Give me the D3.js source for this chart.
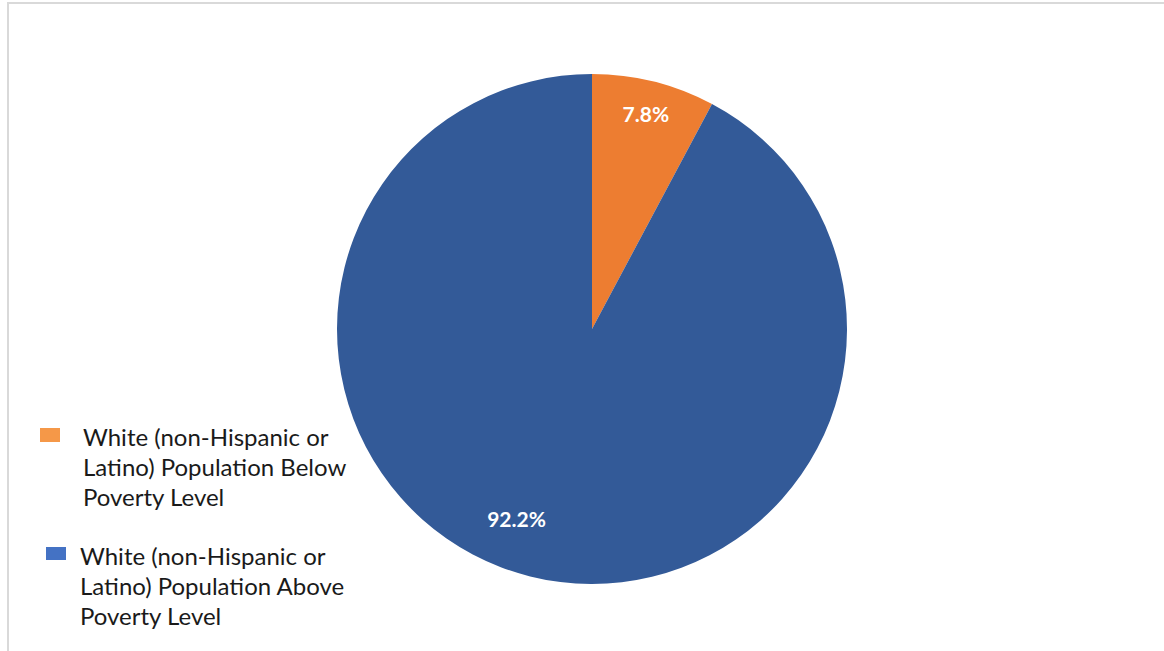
<!DOCTYPE html>
<html>
<head>
<meta charset="utf-8">
<script src="https://cdn.jsdelivr.net/npm/d3@7"></script>
<style>
  html, body { margin: 0; padding: 0; background: #ffffff; }
  svg { display: block; }
</style>
</head>
<body>
<svg id="chart" width="1164" height="651"></svg>
<script>
// ---- data ----
const categories = [
  "White (non-Hispanic or Latino) Population Below Poverty Level",
  "White (non-Hispanic or Latino) Population Above Poverty Level"
];
const values = [7.8, 92.2];
const valueLabels = ["7.8%", "92.2%"];
const legendLines = [
  ["White (non-Hispanic or", "Latino) Population Below", "Poverty Level"],
  ["White (non-Hispanic or", "Latino) Population Above", "Poverty Level"]
];

// ---- styles ----
const sliceColors = ["#ED7D31", "#335A98"];
const legendColors = ["#F59848", "#4472C4"];
const W = 1164, H = 651;
const cx = 592, cy = 329, R = 255;
const fontFamily = "Lato, 'Open Sans', 'Liberation Sans', sans-serif";

const svg = d3.select("#chart");

// frame
svg.append("rect")
  .attr("x", 8).attr("y", 3)
  .attr("width", W + 20).attr("height", H + 20)
  .attr("fill", "none")
  .attr("stroke", "#d9d9d9")
  .attr("stroke-width", 2);

const pie = d3.pie().sort(null).value(d => d)
  .startAngle(0).endAngle(2 * Math.PI);
const arcs = pie(values);
const arc = d3.arc().innerRadius(0).outerRadius(R);

const g = svg.append("g").attr("transform", `translate(${cx},${cy})`);
g.selectAll("path.slice")
  .data(arcs)
  .enter().append("path")
  .attr("class", "slice")
  .attr("d", arc)
  .attr("fill", (d, i) => sliceColors[i]);

// data labels
const labelArcs = [d3.arc().innerRadius(222).outerRadius(222),
                   d3.arc().innerRadius(204).outerRadius(204)];
const labelNudge = [[0, 0], [-26, -8]];
g.selectAll("text.lbl")
  .data(arcs)
  .enter().append("text")
  .attr("class", "lbl")
  .attr("x", (d, i) => labelArcs[i].centroid(d)[0] + labelNudge[i][0])
  .attr("y", (d, i) => labelArcs[i].centroid(d)[1] + labelNudge[i][1])
  .attr("text-anchor", "middle")
  .attr("dominant-baseline", "central")
  .attr("fill", "#ffffff")
  .attr("font-family", fontFamily)
  .attr("font-weight", "bold")
  .attr("font-size", 21)
  .text((d, i) => valueLabels[i]);

// legend
const legendPos = [
  { sx: 40, sy: 428, sw: 20, sh: 14, tx: 83, ty: 446 },
  { sx: 46, sy: 547, sw: 20, sh: 13, tx: 80, ty: 565 }
];
const lineH = 30;
categories.forEach((c, i) => {
  const p = legendPos[i];
  const lg = svg.append("g").attr("class", "legend-item");
  lg.append("rect")
    .attr("x", p.sx).attr("y", p.sy)
    .attr("width", p.sw).attr("height", p.sh)
    .attr("fill", legendColors[i]);
  const t = lg.append("text")
    .attr("font-family", fontFamily)
    .attr("font-size", 24)
    .attr("fill", "#1a1a1a");
  legendLines[i].forEach((ln, j) => {
    t.append("tspan").attr("x", p.tx).attr("y", p.ty + j * lineH).text(ln);
  });
});
</script>
</body>
</html>
